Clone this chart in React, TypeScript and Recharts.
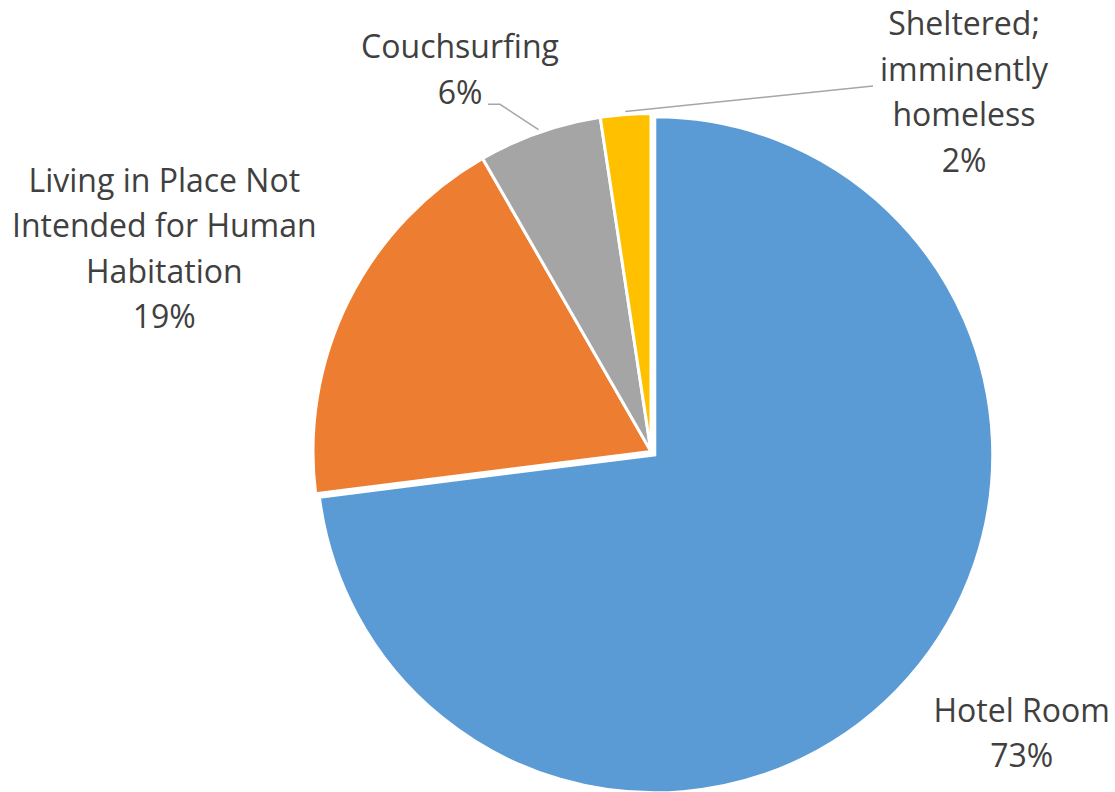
import React from "react";
import { PieChart, Pie, Cell } from "recharts";

const categories = [
  "Hotel Room",
  "Living in Place Not Intended for Human Habitation",
  "Couchsurfing",
  "Sheltered; imminently homeless",
];
const values = [73.0, 18.7, 5.9, 2.4];
const percentLabels = ["73%", "19%", "6%", "2%"];
const labelLines = [
  ["Hotel Room"],
  ["Living in Place Not", "Intended for Human", "Habitation"],
  ["Couchsurfing"],
  ["Sheltered;", "imminently", "homeless"],
];
const colors = ["#5B9BD5", "#ED7D31", "#A5A5A5", "#FFC000"];

const data = categories.map((name, i) => ({ name, value: values[i] }));

const W = 1115;
const H = 792;
const CX = 651;
const CY = 451.5;
const R = 338;
const EXPLODE = 5;
const LINE_H = 45.5;
const TEXT_COLOR = "#404040";
const LEADER_COLOR = "#A6A6A6";

// label anchor offsets relative to pie center (x center, first baseline)
const labelLayout = [
  { dx: 370.7, dy: 270.2, leader: null as null | number[][] },
  { dx: -486.7, dy: -259.8, leader: null as null | number[][] },
  { dx: -191, dy: -393.2, leader: [[-151, -347.2], [-163, -347.2]] },
  { dx: 313, dy: -416.5, leader: [[222, -365.5]] },
];

const RAD = Math.PI / 180;

const renderLabel = (props: any) => {
  const { cx, cy, midAngle, outerRadius, index } = props;
  const lay = labelLayout[index];
  const lines = [...labelLines[index], percentLabels[index]];
  const x = cx + lay.dx;
  const y0 = cy + lay.dy;
  let leader = null;
  if (lay.leader) {
    const sx = cx + (outerRadius + 3) * Math.cos(midAngle * RAD);
    const sy = cy - (outerRadius + 3) * Math.sin(midAngle * RAD);
    const pts = [[sx, sy], ...lay.leader.map((p) => [cx + p[0], cy + p[1]])];
    leader = (
      <polyline
        points={pts.map((p) => p.join(",")).join(" ")}
        fill="none"
        stroke={LEADER_COLOR}
        strokeWidth={1.5}
      />
    );
  }
  return (
    <g key={`lbl-${index}`}>
      {leader}
      <text
        x={x}
        y={y0}
        textAnchor="middle"
        fill={TEXT_COLOR}
        fontFamily="'Open Sans', sans-serif"
        fontSize={32}
      >
        {lines.map((l, i) => (
          <tspan key={i} x={x} y={y0 + i * LINE_H}>
            {l}
          </tspan>
        ))}
      </text>
    </g>
  );
};

const total = values.reduce((a, b) => a + b, 0);
const blueMid = 90 - (values[0] / total) * 180;
const BX = CX + EXPLODE * Math.cos(blueMid * RAD);
const BY = CY - EXPLODE * Math.sin(blueMid * RAD);

export default function App() {
  return (
    <div
      style={{
        position: "absolute",
        left: 0,
        top: 0,
        width: W,
        height: H,
        background: "#ffffff",
      }}
    >
      <PieChart width={W} height={H} margin={{ top: 0, right: 0, bottom: 0, left: 0 }}>
        <Pie
          data={data}
          dataKey="value"
          nameKey="name"
          cx={CX}
          cy={CY}
          outerRadius={R}
          startAngle={90}
          endAngle={-270}
          stroke="#ffffff"
          strokeWidth={3}
          isAnimationActive={false}
          label={renderLabel}
          labelLine={false}
        >
          {data.map((d, i) => (
            <Cell
              key={i}
              fill={i === 0 ? "none" : colors[i]}
              stroke={i === 0 ? "none" : "#ffffff"}
            />
          ))}
        </Pie>
        <Pie
          data={data}
          dataKey="value"
          nameKey="name"
          cx={BX}
          cy={BY}
          outerRadius={R}
          startAngle={90}
          endAngle={-270}
          stroke="#ffffff"
          strokeWidth={3}
          isAnimationActive={false}
          label={false}
          labelLine={false}
        >
          {data.map((d, i) => (
            <Cell
              key={i}
              fill={i === 0 ? colors[0] : "none"}
              stroke={i === 0 ? "#ffffff" : "none"}
            />
          ))}
        </Pie>
      </PieChart>
    </div>
  );
}
